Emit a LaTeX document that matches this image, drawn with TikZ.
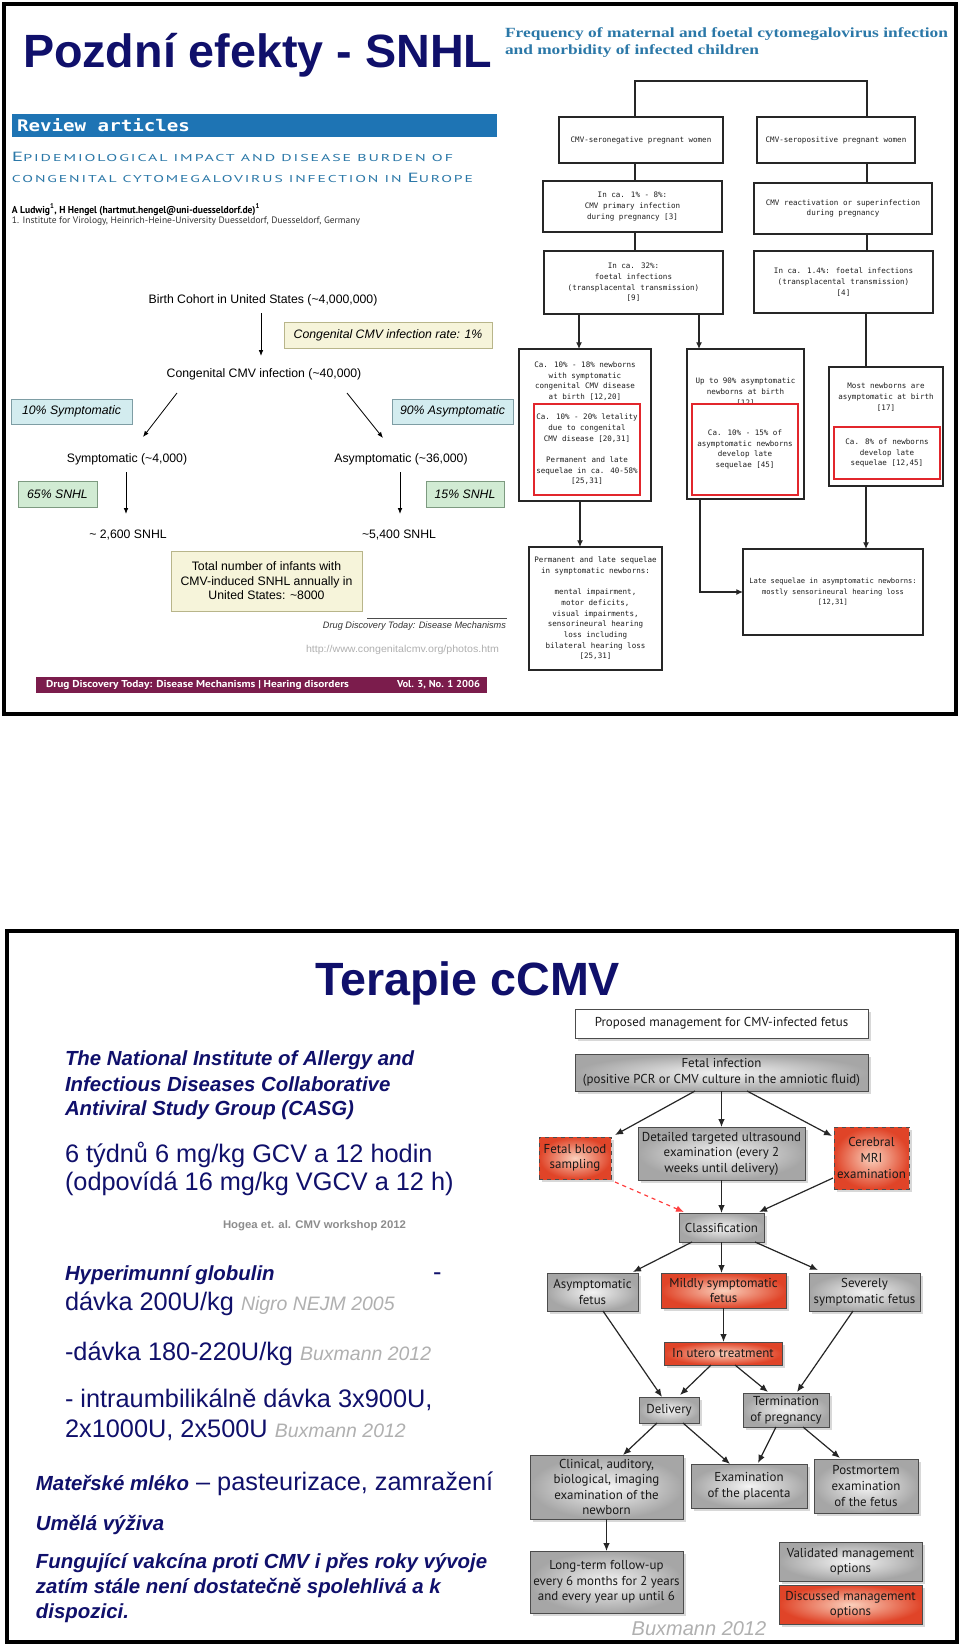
\documentclass[tikz,border=0pt]{standalone}
\usepackage{fontspec}
\usepackage{graphicx}
\setmainfont{Liberation Sans}
\newfontfamily\mono{DejaVu Sans Mono}
\newfontfamily\pts{PT Sans}
\newfontfamily\ptsw[LetterSpace=12]{PT Sans}
\newfontfamily\serifb{Liberation Serif}
\usetikzlibrary{arrows.meta,calc,shadows}
\newdimen\PXd \PXd=0.75pt
\newcommand\fitw[2]{\resizebox{#1\PXd}{\height}{#2}}
\definecolor{navy}{HTML}{10106B}
\definecolor{tealt}{HTML}{2B78A8}
\definecolor{revbar}{HTML}{1E74B4}
\definecolor{maroonb}{HTML}{7B1C4C}
\definecolor{yelfill}{HTML}{F6F4DA}
\definecolor{yelbord}{HTML}{B8B58A}
\definecolor{bluefill}{HTML}{D3ECEF}
\definecolor{bluebord}{HTML}{7E9DA4}
\definecolor{grnfill}{HTML}{D1EBD3}
\definecolor{grnbord}{HTML}{7D9A80}
\definecolor{redbox}{HTML}{E2262C}
\definecolor{gdark}{HTML}{A6A6A6}
\definecolor{glight}{HTML}{F4F4F4}
\definecolor{rdark}{HTML}{E04428}
\definecolor{rlight}{HTML}{FAD0BC}
\definecolor{citeg}{HTML}{B0B0B0}
\newcommand\ct[1]{{\color{citeg}\fontsize{14.6}{16}\itshape\selectfont #1}}
\tikzset{
  wh/.style 2 args={minimum width=#1*0.75pt, minimum height=#2*0.75pt},
  lt/.style={font=\fontsize{9.2}{11}\selectfont, text height=6.75pt, text depth=2.25pt, anchor=base},
  ybox/.style={draw=yelbord, fill=yelfill, line width=0.6pt},
  bbox/.style={draw=bluebord, fill=bluefill, line width=0.6pt, font=\fontsize{9.2}{11}\itshape\selectfont},
  gbox/.style={draw=grnbord, fill=grnfill, line width=0.6pt, font=\fontsize{9.2}{11}\itshape\selectfont},
  larr/.style={-{Latex[length=4.5pt,width=3.5pt]}, line width=0.6pt},
  mt/.style={font=\mono\fontsize{5.65}{8}\selectfont, align=center, text=black!88},
  rbox/.style={draw=black!85, line width=0.9pt, fill=white},
  redb/.style={draw=redbox, line width=2.2pt, fill=white},
  cl/.style={line width=0.9pt, draw=black!85},
  carr/.style={cl, -{Latex[length=5pt,width=4.5pt]}},
  rg/.style={anchor=base west, text=navy, font=\fontsize{19}{21}\selectfont},
  bi/.style={anchor=base west, text=navy, font=\fontsize{15.3}{18.75}\bfseries\itshape\selectfont},
  cb/.style={draw=black!70, line width=0.6pt, font=\pts\fontsize{9.7}{11.7}\selectfont, align=center, text=black!90,
    drop shadow={shadow xshift=2pt, shadow yshift=-2pt, opacity=0.3}},
  gshade/.style={inner color=glight, outer color=gdark},
  rshade/.style={inner color=rlight, outer color=rdark},
  ca/.style={-{Latex[length=6pt,width=5pt]}, line width=0.9pt, draw=black!85},
}
\begin{document}
\begin{tikzpicture}[x=0.75pt,y=-0.75pt, every node/.style={inner sep=0pt, outer sep=0pt}]
\useasboundingbox[fill=white] (0,0) rectangle (960,1645);
% frames
\draw[line width=2.3pt] (4,4) rectangle (956,714);
\draw[line width=2.3pt] (7,931) rectangle (957,1642);

% ---------- slide 1 header ----------
\node[anchor=base west, font=\fontsize{35}{35}\bfseries\selectfont, text=navy] (t1) at (23,68) {Pozdní efekty - SNHL};
\node[anchor=base west, text=tealt, font=\serifb\bfseries\fontsize{10.5}{12}\selectfont] (freq1) at (505,38) {\fitw{443}{Frequency of maternal and foetal cytomegalovirus infection}};
\node[anchor=base west, text=tealt, font=\serifb\bfseries\fontsize{10.5}{12}\selectfont] (freq2) at (505,55) {\fitw{254}{and morbidity of infected children}};
\node[fill=revbar, wh={485}{23}, anchor=north west] (rev) at (12,114) {};
\node[anchor=base west, text=white, font=\mono\bfseries\fontsize{12}{12}\selectfont] (revt) at (17,131) {\fitw{173}{Review articles}};
\node[anchor=base west, text=tealt, font=\ptsw] (ep1) at (12,161) {\fitw{441}{{\fontsize{10}{10}\selectfont E}{\fontsize{7.5}{10}\selectfont PIDEMIOLOGICAL IMPACT AND DISEASE BURDEN OF}}};
\node[anchor=base west, text=tealt, font=\ptsw] (ep2) at (12,182) {\fitw{461}{{\fontsize{7.5}{10}\selectfont CONGENITAL CYTOMEGALOVIRUS INFECTION IN }{\fontsize{10}{10}\selectfont E}{\fontsize{7.5}{10}\selectfont UROPE}}};
\node[anchor=base west, font=\pts\bfseries\fontsize{7.5}{9}\selectfont] (auth) at (12,213) {\fitw{248}{A Ludwig\textsuperscript{1}, H Hengel (hartmut.hengel@uni-duesseldorf.de)\textsuperscript{1}}};
\node[anchor=base west, text=black!80, font=\pts\fontsize{7}{9}\selectfont] (inst) at (12,223) {\fitw{348}{1. Institute for Virology, Heinrich-Heine-University Duesseldorf, Duesseldorf, Germany}};

% ---------- slide 1 left diagram ----------
\node[lt] (birth) at (263,303) {Birth Cohort in United States (\textasciitilde4,000,000)};
\node[ybox, wh={208}{26}, font=\fontsize{9.2}{11}\itshape\selectfont] (rate) at (388,335) {Congenital CMV infection rate: 1\%};
\node[lt] (cong) at (264,377) {Congenital CMV infection (\textasciitilde40,000)};
\node[bbox, wh={121}{25}] (p10) at (71.5,411.5) {10\% Symptomatic};
\node[bbox, wh={121}{25}] (p90) at (452.5,411.5) {90\% Asymptomatic};
\node[lt] (sym) at (127,462) {Symptomatic (\textasciitilde4,000)};
\node[lt] (asym) at (401,462) {Asymptomatic (\textasciitilde36,000)};
\node[gbox, wh={79}{26}] (s65) at (57.5,494) {65\% SNHL};
\node[gbox, wh={78}{26}] (s15) at (465,494) {15\% SNHL};
\node[lt] (n2600) at (128,538) {\textasciitilde{} 2,600 SNHL};
\node[lt] (n5400) at (399,538) {\textasciitilde5,400 SNHL};
\node[ybox, wh={191}{60}, align=center, font=\fontsize{9.2}{10.9}\selectfont] (tot) at (266.5,581) {Total number of infants with\\CMV-induced SNHL annually in\\United States: \textasciitilde8000};
\draw[larr] ($(birth.south)+(-2,7)$) -- ($(cong.north)+(-3,-12)$);
\draw[larr] ($(cong.south)+(-87,13)$) -- ($(sym.north)+(16,-16)$);
\draw[larr] ($(cong.south)+(83,13)$) -- ($(asym.north)+(-18,-15)$);
\draw[larr] ($(sym.south)+(-1,7)$) -- ($(n2600.north)+(-2,-15)$);
\draw[larr] ($(asym.south)+(-1,7)$) -- ($(n5400.north)+(1,-15)$);
\node[anchor=base east, font=\fontsize{7}{8}\itshape\selectfont, text=black!80] (ddt) at (506,628) {\fitw{183}{Drug Discovery Today: Disease Mechanisms}};
\draw[line width=0.4pt, black!70] (367,618) -- (507,618);
\node[anchor=base west, text=citeg, font=\fontsize{7.5}{9}\selectfont] (url) at (306,652) {\fitw{193}{http://www.congenitalcmv.org/photos.htm}};
\node[fill=maroonb, wh={451}{16}, anchor=north west] (bar) at (36,677) {};
\node[anchor=base west, text=white, font=\pts\bfseries\fontsize{7.5}{9}\selectfont] (bart) at (46,687) {\fitw{303}{Drug Discovery Today: Disease Mechanisms | Hearing disorders}};
\node[anchor=base east, text=white, font=\pts\bfseries\fontsize{7.5}{9}\selectfont] (barv) at (480,687) {\fitw{83}{Vol. 3, No. 1 2006}};

% ---------- slide 1 right diagram ----------
\node[rbox, wh={164}{46}, mt] (A1) at (641,140) {CMV-seronegative pregnant women};
\node[rbox, wh={158}{46}, mt] (A2) at (836,140) {CMV-seropositive pregnant women};
\node[rbox, wh={179}{51}, mt] (B1) at (632.5,206.5) {In ca. 1\% - 8\%:\\CMV primary infection\\during pregnancy [3]};
\node[rbox, wh={178}{51}, mt] (B2) at (843,208.5) {CMV reactivation or superinfection\\during pregnancy};
\node[rbox, wh={179}{63}, mt] (C1) at (633.5,282.5) {In ca. 32\%:\\foetal infections\\(transplacental transmission)\\{}[9]};
\node[rbox, wh={179}{62}, mt] (C2) at (843.5,282) {In ca. 1.4\%: foetal infections\\(transplacental transmission)\\{}[4]};
\node[rbox, wh={132}{152}] (D1) at (585,425) {};
\node[rbox, wh={117}{150}] (D2) at (745.5,424) {};
\node[rbox, wh={114}{119}] (D3) at (886,426.5) {};
\node[mt] (D1t) at (585,381) {Ca. 10\% - 18\% newborns\\with symptomatic\\congenital CMV disease\\at birth [12,20]};
\node[mt] (D2t) at (745.5,392) {Up to 90\% asymptomatic\\newborns at birth\\{}[12]};
\node[mt] (D3t) at (886,397) {Most newborns are\\asymptomatic at birth\\{}[17]};
\node[redb, wh={106}{91}, mt] (R1) at (587,449.5) {Ca. 10\% - 20\% letality\\due to congenital\\CMV disease [20,31]\\[8pt]Permanent and late\\sequelae in ca. 40-58\%\\{}[25,31]};
\node[redb, wh={106}{91}, mt] (R2) at (745,449.5) {Ca. 10\% - 15\% of\\asymptomatic newborns\\develop late\\sequelae [45]};
\node[redb, wh={106}{52}, mt] (R3) at (887,453) {Ca. 8\% of newborns\\develop late\\sequelae [12,45]};
\node[rbox, wh={133}{123}, mt] (E1) at (595.5,608.5) {Permanent and late sequelae\\in symptomatic newborns:\\[8pt]mental impairment,\\motor deficits,\\visual impairments,\\sensorineural hearing\\loss including\\bilateral hearing loss\\{}[25,31]};
\node[rbox, wh={180}{86}, mt, font=\mono\fontsize{5.35}{8}\selectfont] (E2) at (833,592) {Late sequelae in asymptomatic newborns:\\mostly sensorineural hearing loss\\{}[12,31]};
\draw[cl] ($(A1.north)+(-6,0)$) -- ++(0,-36) -| ($(A2.north)+(31,0)$);
\draw[cl] ($(A1.south)+(-6,0)$) -- ($(B1.north)+(2.5,0)$);
\draw[cl] ($(A2.south)+(31,0)$) -- ($(B2.north)+(24,0)$);
\draw[cl] ($(B1.south)+(2.5,0)$) -- ($(C1.north)+(1.5,0)$);
\draw[cl] ($(B2.south)+(24,0)$) -- ($(C2.north)+(23.5,0)$);
\draw[carr] ($(C1.south)+(-54.5,0)$) -- ($(D1.north)+(-6,0)$);
\draw[carr] ($(C1.south)+(65.5,0)$) -- ($(D2.north)+(-46.5,0)$);
\draw[cl] ($(C2.south)+(22.5,0)$) -- ($(D3.north)+(-20,0)$);
\draw[carr] ($(D1.south)+(-5,0)$) -- ($(E1.north)+(-15.5,0)$);
\draw[carr] ($(D2.south)+(-45.5,0)$) |- (E2.west);
\draw[carr] ($(D3.south)+(-20,0)$) -- ($(E2.north)+(33,0)$);

% ---------- slide 2 left text ----------
\node[anchor=base west, text=navy, font=\fontsize{35}{35}\bfseries\selectfont] (t2) at (315,995) {Terapie cCMV};
\node[bi] (nih1) at (65,1065) {The National Institute of Allergy and};
\node[bi] (nih2) at (65,1091) {Infectious Diseases Collaborative};
\node[bi] (nih3) at (65,1115) {Antiviral Study Group (CASG)};
\node[rg] (d1) at (65,1162) {6 týdnů 6 mg/kg GCV a 12 hodin};
\node[rg] (d2) at (65,1190) {(odpovídá 16 mg/kg VGCV a 12 h)};
\node[anchor=base west, text=black!45, font=\fontsize{8.3}{10}\bfseries\selectfont] (hog) at (223,1228) {\fitw{183}{Hogea et. al. CMV workshop 2012}};
\node[bi] (hyp) at (65,1280) {Hyperimunní globulin};
\node[rg] (hypd) at (433,1280) {-};
\node[rg] (dav1) at (65,1310) {dávka 200U/kg \ct{Nigro NEJM 2005}};
\node[rg] (dav2) at (65,1360) {-dávka 180-220U/kg \ct{Buxmann 2012}};
\node[rg] (dav3) at (65,1407) {- intraumbilikálně dávka 3x900U,};
\node[rg] (dav4) at (65,1437) {2x1000U, 2x500U \ct{Buxmann 2012}};
\node[rg] (mat) at (36,1490) {{\fontsize{15.3}{18}\bfseries\itshape\selectfont Mateřské mléko} – pasteurizace, zamražení};
\node[bi] (um) at (36,1530) {Umělá výživa};
\node[bi] (f1) at (36,1568) {Fungující vakcína proti CMV i přes roky vývoje};
\node[bi] (f2) at (36,1593) {zatím stále není dostatečně spolehlivá a k};
\node[bi] (f3) at (36,1618) {dispozici.};

% ---------- slide 2 chart ----------
\node[cb, fill=white, wh={293}{29}] (P0) at (721.5,1023.5) {Proposed management for CMV-infected fetus};
\node[cb, gshade, wh={293}{37}] (P1) at (721.5,1072.5) {Fetal infection\\(positive PCR or CMV culture in the amniotic fluid)};
\node[cb, rshade, dashed, wh={72}{42}] (P2) at (575,1158) {Fetal blood\\sampling};
\node[cb, gshade, wh={167}{53}] (P3) at (721.5,1153.5) {Detailed targeted ultrasound\\examination (every 2\\weeks until delivery)};
\node[cb, rshade, dashed, wh={75}{62}] (P4) at (871.5,1158) {Cerebral\\MRI\\examination};
\node[cb, gshade, wh={85}{29}] (P5) at (721.5,1227.5) {Classification};
\node[cb, gshade, wh={91}{38}] (P6) at (592.5,1292) {Asymptomatic\\fetus};
\node[cb, rshade, wh={125}{35}] (P7) at (723.5,1290.5) {Mildly symptomatic\\fetus};
\node[cb, gshade, wh={111}{38}] (P8) at (864.5,1292) {Severely\\symptomatic fetus};
\node[cb, rshade, wh={118}{23}] (P9) at (723,1353.5) {In utero treatment};
\node[cb, gshade, wh={60}{26}] (P10) at (669,1410) {Delivery};
\node[cb, gshade, wh={86}{34}] (P11) at (786,1410) {Termination\\of pregnancy};
\node[cb, gshade, wh={153}{64}] (P12) at (606.5,1487) {Clinical, auditory,\\biological, imaging\\examination of the\\newborn};
\node[cb, gshade, wh={116}{44}] (P13) at (749,1486) {Examination\\of the placenta};
\node[cb, gshade, wh={104}{54}] (P14) at (866,1486) {Postmortem\\examination\\of the fetus};
\node[cb, gshade, wh={153}{62}] (P15) at (606.5,1582) {Long-term follow-up\\every 6 months for 2 years\\and every year up until 6};
\node[cb, gshade, wh={143}{39}] (P16) at (850.5,1561.5) {Validated management\\options};
\node[cb, rshade, wh={143}{39}] (P17) at (850.5,1604.5) {Discussed management\\options};
\draw[ca] (P1.south) -- (P3.north);
\draw[ca] ($(P1.south)+(-26.5,0)$) -- ($(P2.north east)+(4,-2)$);
\draw[ca] ($(P1.south)+(25.5,0)$) -- ($(P4.north west)+(-2,9)$);
\draw[ca, draw=red!75, dashed] ($(P2.south east)+(4,3)$) -- ($(P5.north west)+(5,-1)$);
\draw[ca] (P3.south) -- (P5.north);
\draw[ca] ($(P4.west)+(-1,20)$) -- ($(P5.north east)+(-5,-1)$);
\draw[ca] ($(P5.south west)+(13,0)$) -- ($(P6.north east)+(-5,-1)$);
\draw[ca] (P5.south) -- (P5.south |- P7.north);
\draw[ca] ($(P5.south east)+(-9,0)$) -- ($(P8.north west)+(9,-3)$);
\draw[ca] (P7.south) -- (P7.south |- P9.north);
\draw[ca] ($(P6.south)+(10.5,0)$) -- ($(P10.north)+(-7,0)$);
\draw[ca] ($(P9.south)+(-12,0)$) -- ($(P10.north)+(11,-2)$);
\draw[ca] ($(P9.south)+(12,0)$) -- ($(P11.north)+(-18,-1)$);
\draw[ca] ($(P8.south)+(-11.5,0)$) -- ($(P11.north)+(11,-1)$);
\draw[ca] ($(P10.south)+(-12,0)$) -- ($(P12.north)+(16.5,0)$);
\draw[ca] ($(P10.south)+(14,0)$) -- ($(P13.north)+(-19,0)$);
\draw[ca] ($(P11.south)+(-10,0)$) -- ($(P13.north)+(9,-1)$);
\draw[ca] ($(P11.south)+(17,0)$) -- ($(P14.north)+(-26,-1)$);
\draw[ca] (P12.south) -- (P15.north);
\node[anchor=base, text=citeg, font=\fontsize{15}{17}\itshape\selectfont] (bux) at (699,1635) {Buxmann 2012};
\end{tikzpicture}
\end{document}
